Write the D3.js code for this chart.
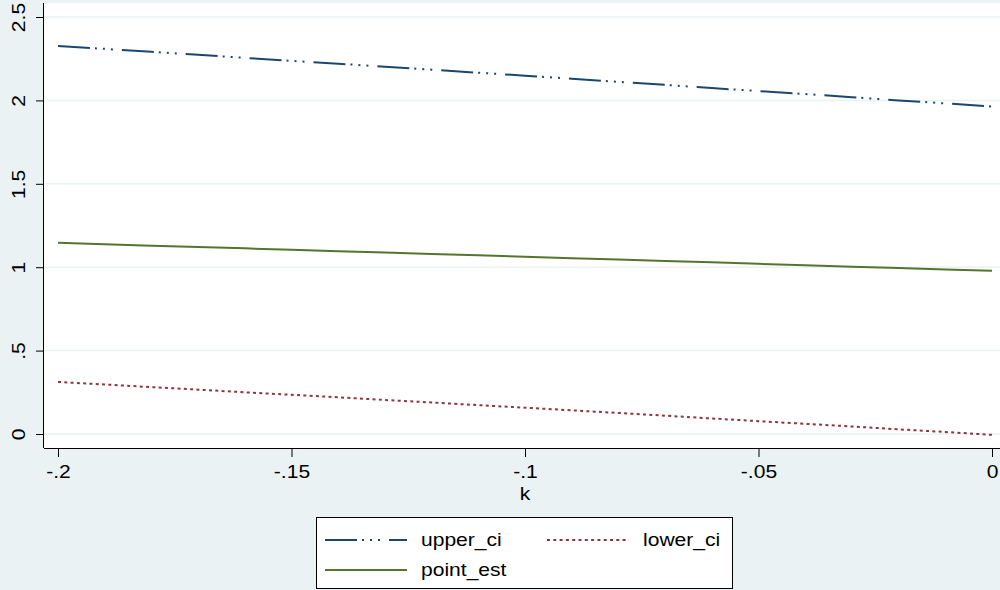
<!doctype html>
<html lang="en">
<head>
<meta charset="UTF-8">
<title>upper_ci, lower_ci, point_est by k</title>
<script src="https://d3js.org/d3.v7.min.js"></script>
<style>
body { margin: 0; background: #eaf2f3; font-family: "Liberation Sans", Arial, sans-serif; }
svg { display: block; }
.axis path { stroke: black; }
.axis line { stroke: black; }
.axis text { font-family: "Liberation Sans", Arial, sans-serif; font-size: 18px; fill: black; }
.grid line { stroke: #eaf2f3; stroke-width: 1.5; }
</style>
</head>
<body>
<div id="plot"></div>
<script>

var width = 1000;
var height = 590;
var stretch = 1.17; // the source renders text a little wide

// k values and the three series
var kValues = [-0.20, -0.19, -0.18, -0.17, -0.16, -0.15, -0.14, -0.13, -0.12, -0.11, -0.10,
	-0.09, -0.08, -0.07, -0.06, -0.05, -0.04, -0.03, -0.02, -0.01, 0.00];
var upperCi = [2.326, 2.309, 2.291, 2.273, 2.255, 2.237, 2.220, 2.202, 2.184, 2.166, 2.148,
	2.130, 2.111, 2.093, 2.074, 2.056, 2.038, 2.019, 2.000, 1.982, 1.963];
var lowerCi = [0.312, 0.297, 0.281, 0.266, 0.250, 0.235, 0.220, 0.204, 0.189, 0.173, 0.158,
	0.142, 0.126, 0.110, 0.093, 0.077, 0.061, 0.045, 0.028, 0.012, -0.005];
var pointEst = [1.146, 1.138, 1.129, 1.121, 1.113, 1.104, 1.096, 1.088, 1.079, 1.071, 1.063,
	1.054, 1.046, 1.037, 1.029, 1.020, 1.012, 1.003, 0.995, 0.986, 0.978];

var xTicks = [-0.2, -0.15, -0.1, -0.05, 0];
var xTickLabels = ["-.2", "-.15", "-.1", "-.05", "0"];
var yTicks = [0, 0.5, 1, 1.5, 2, 2.5];
var yTickLabels = ["0", ".5", "1", "1.5", "2", "2.5"];

var plotLeft = 44, plotRight = 1000, plotTop = 3, plotBottom = 448;

var svg = d3.select("#plot").append("svg")
	.attr("width", width)
	.attr("height", height);

var xScale = d3.scaleLinear().domain([-0.2, 0]).range([58, 992]);
var yScale = d3.scaleLinear().domain([0, 2.5]).range([434, 17]);

svg.append("rect")
	.attr("x", plotLeft)
	.attr("y", plotTop)
	.attr("width", plotRight - plotLeft)
	.attr("height", plotBottom - plotTop)
	.style("fill", "white");

svg.append("g")
	.attr("class", "grid")
	.selectAll("line")
	.data(yTicks)
	.enter().append("line")
	.attr("x1", plotLeft)
	.attr("x2", plotRight)
	.attr("y1", function (d) { return yScale(d); })
	.attr("y2", function (d) { return yScale(d); });

var xAxis = d3.axisBottom(xScale)
	.tickValues(xTicks)
	.tickSize(9)
	.tickFormat(function (d, i) { return xTickLabels[i]; });

var gx = svg.append("g")
	.attr("class", "axis")
	.attr("transform", "translate(0," + plotBottom + ")")
	.call(xAxis);
gx.select(".domain").attr("d", "M" + plotLeft + ",0.5H" + plotRight);
gx.selectAll(".tick text")
	.attr("y", null)
	.attr("dy", null)
	.attr("transform", "translate(0,30) scale(" + stretch + ",1)");

var yAxis = d3.axisLeft(yScale)
	.tickValues(yTicks)
	.tickSize(8)
	.tickFormat(function (d, i) { return yTickLabels[i]; });

var gy = svg.append("g")
	.attr("class", "axis")
	.attr("transform", "translate(" + plotLeft + ",0)")
	.call(yAxis);
gy.select(".domain").attr("d", "M-0.5," + plotTop + "V" + plotBottom);
gy.selectAll(".tick text")
	.attr("x", 0)
	.attr("dy", null)
	.attr("transform", "translate(-25,0) rotate(-90) scale(" + stretch + ",1)")
	.attr("text-anchor", "middle")
	.attr("dominant-baseline", "central");

svg.append("text")
	.attr("transform", "translate(525,500) scale(" + stretch + ",1)")
	.attr("text-anchor", "middle")
	.style("font-size", "18px")
	.text("k");

var series = [
	{ name: "upper_ci", values: upperCi, color: "#1a476f", dash: "32,5,2,6,2,6,2,9" },
	{ name: "lower_ci", values: lowerCi, color: "#90353b", dash: "3,3.3" },
	{ name: "point_est", values: pointEst, color: "#55752f", dash: null }
];

var line = d3.line()
	.x(function (d) { return xScale(d[0]); })
	.y(function (d) { return yScale(d[1]); });

series.forEach(function (s) {
	svg.append("path")
		.attr("d", line(d3.zip(kValues, s.values)))
		.style("fill", "none")
		.style("stroke", s.color)
		.style("stroke-width", 2)
		.style("stroke-dasharray", s.dash);
});

// legend
var legend = svg.append("g");
legend.append("rect")
	.attr("x", 316.5)
	.attr("y", 517.5)
	.attr("width", 416)
	.attr("height", 71)
	.style("fill", "white")
	.style("stroke", "black");

var legendPos = [
	{ x: 325, y: 540 },
	{ x: 547, y: 540 },
	{ x: 325, y: 570 }
];

series.forEach(function (s, i) {
	var p = legendPos[i];
	legend.append("line")
		.attr("x1", p.x)
		.attr("x2", p.x + 82)
		.attr("y1", p.y)
		.attr("y2", p.y)
		.style("stroke", s.color)
		.style("stroke-width", 2)
		.style("stroke-dasharray", s.dash);
	legend.append("text")
		.attr("transform", "translate(" + (p.x + 96) + "," + p.y + ") scale(" + stretch + ",1)")
		.attr("dominant-baseline", "central")
		.style("font-size", "18px")
		.text(s.name);
});

</script>
</body>
</html>
